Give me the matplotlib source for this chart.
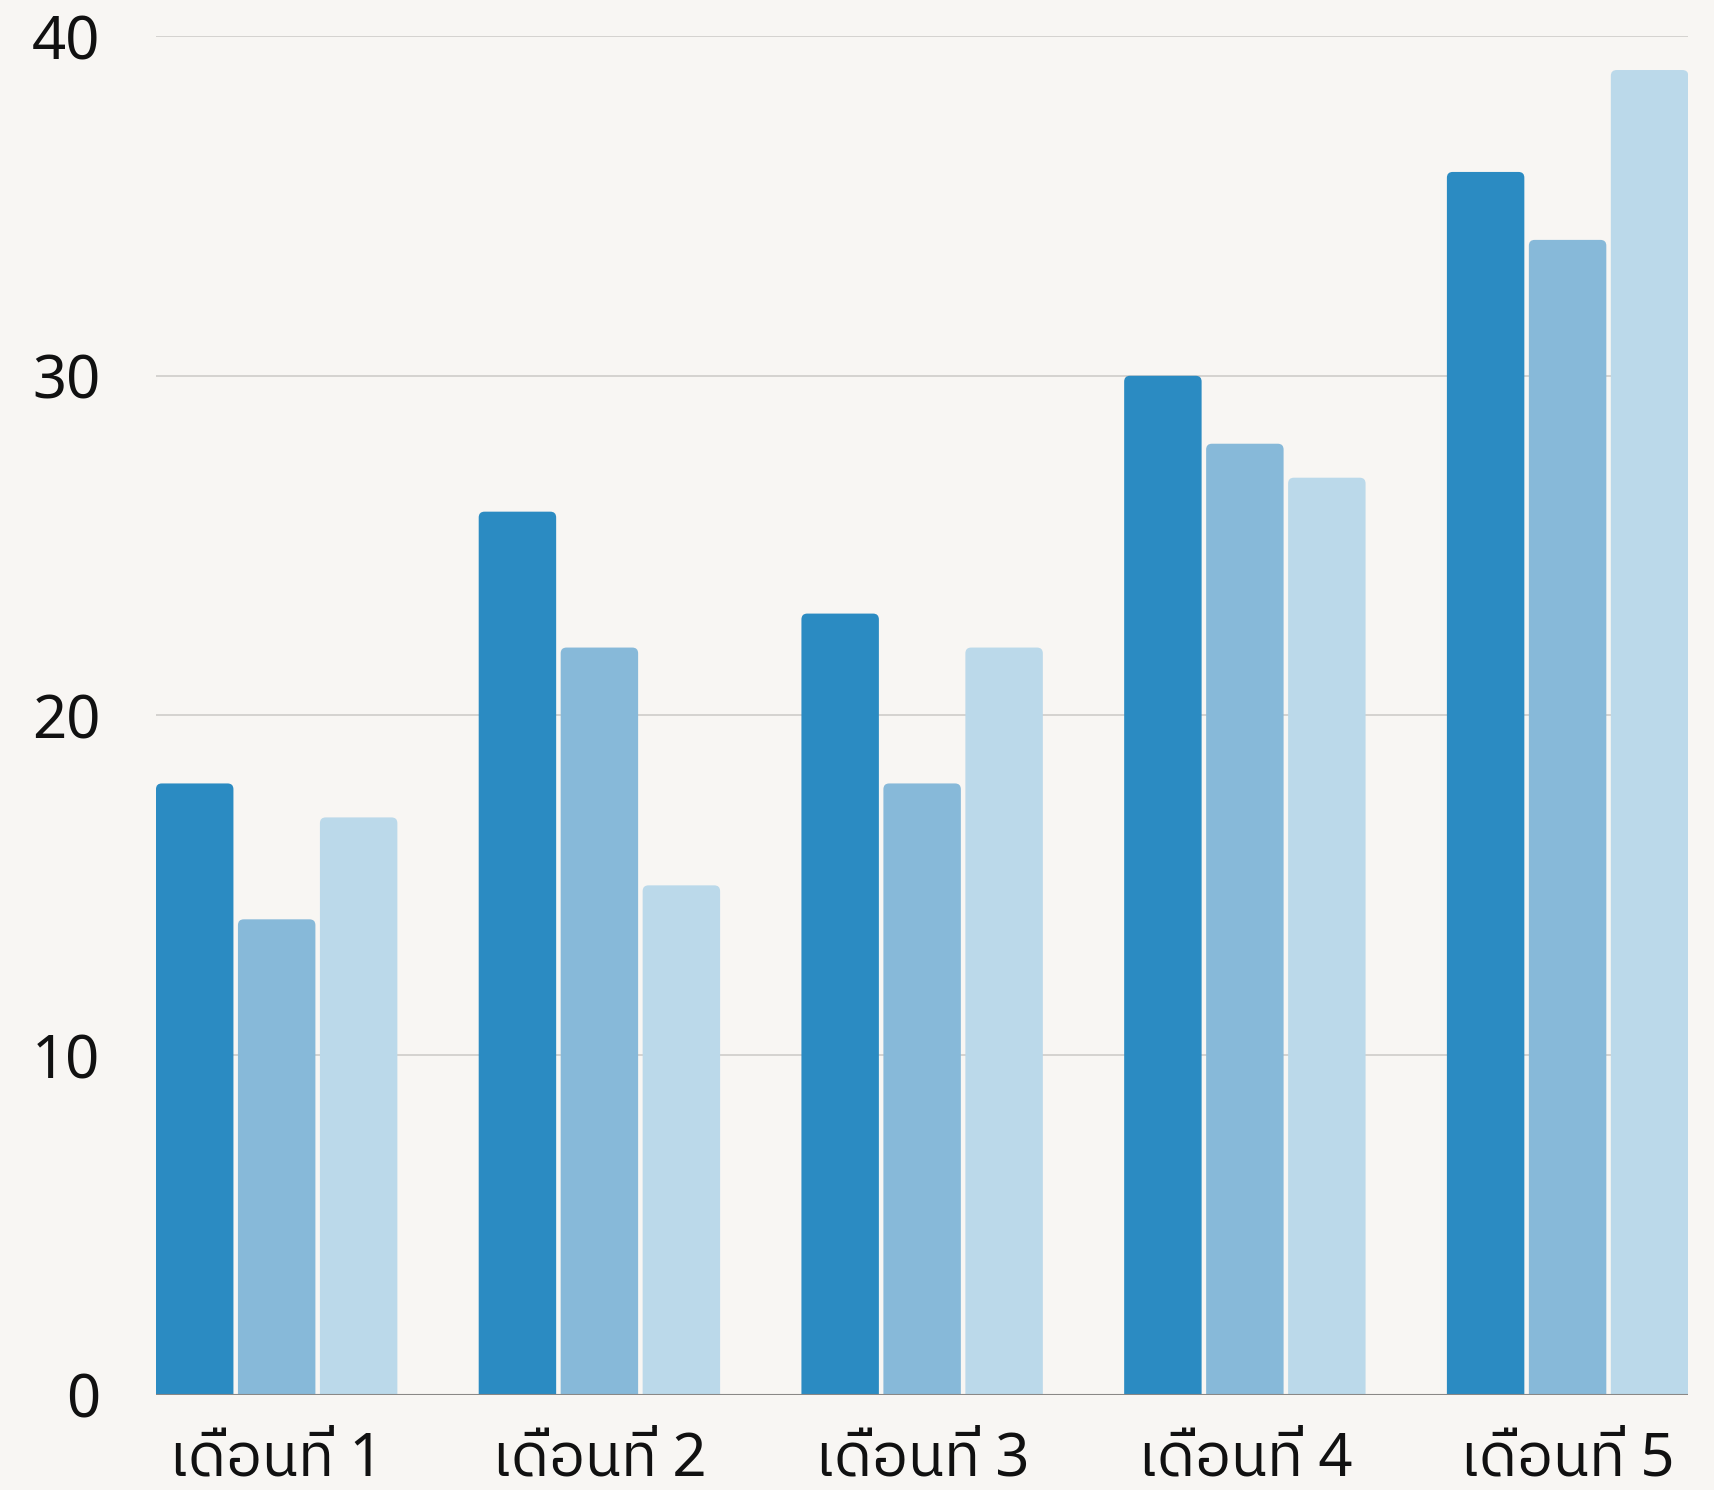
import matplotlib
matplotlib.use('Agg')
import matplotlib.pyplot as plt
from matplotlib import font_manager
from matplotlib.ft2font import FT2Font
from matplotlib.patches import FancyBboxPatch
import numpy as np

# data
categories = ['เดือนที่ 1', 'เดือนที่ 2', 'เดือนที่ 3', 'เดือนที่ 4', 'เดือนที่ 5']
series_a = [18, 26, 23, 30, 36]
series_b = [14, 22, 18, 28, 34]
series_c = [17, 15, 22, 27, 39]
y_ticks = [0, 10, 20, 30, 40]

colors = ['#2b8bc2', '#87b9d9', '#bbd9ea']
bg = '#f8f6f3'


# find an installed font with Thai glyphs
def thai_font():
    found = []
    for f in font_manager.fontManager.ttflist:
        try:
            if 0x0E40 in FT2Font(f.fname).get_charmap():
                found.append(f.name)
        except Exception:
            pass
    for name in found:
        if 'Thai' in name:
            return name
    return found[0] if found else None


tf = thai_font()
fams = ['Noto Sans', tf, 'DejaVu Sans'] if tf else ['DejaVu Sans']
plt.rcParams['font.family'] = fams

fig = plt.figure(figsize=(17.14, 14.90), dpi=100, facecolor=bg)
ax = fig.add_axes([0.091, 0.0638, 0.894, 0.912])
ax.set_facecolor(bg)

x = np.arange(len(categories))
w = 0.24
step = 0.254
sink = 0.5  # bars start a bit below 0 so only the top corners look rounded
for i, vals in enumerate([series_a, series_b, series_c]):
    bars = ax.bar(x + (i - 1) * step, np.array(vals) + sink, bottom=-sink,
                  width=w, color=colors[i], zorder=2)
    for r in bars:
        r.set_visible(False)
        p = FancyBboxPatch((r.get_x(), r.get_y()), r.get_width(), r.get_height(),
                           boxstyle='round,pad=0,rounding_size=0.018',
                           mutation_aspect=9.5, fc=colors[i], ec='none', zorder=2)
        ax.add_patch(p)

ax.set_xlim(-0.374, len(categories) - 1 + 0.374)
ax.set_ylim(0, 40)
ax.set_yticks(y_ticks)
ax.set_yticklabels([str(t) for t in y_ticks])
ax.set_xticks(x)
ax.set_xticklabels(categories)
ax.tick_params(axis='both', length=0, labelsize=43, colors='#111111')
ax.tick_params(axis='y', pad=40)
ax.tick_params(axis='x', pad=25)

for t in y_ticks[1:]:
    ax.axhline(t, color='#d2d0cd', lw=1.3, zorder=1)
ax.axhline(0, color='#8a8886', lw=1.5, zorder=3)

for s in ax.spines.values():
    s.set_visible(False)

fig.savefig('out.png', dpi=100, facecolor=bg)
